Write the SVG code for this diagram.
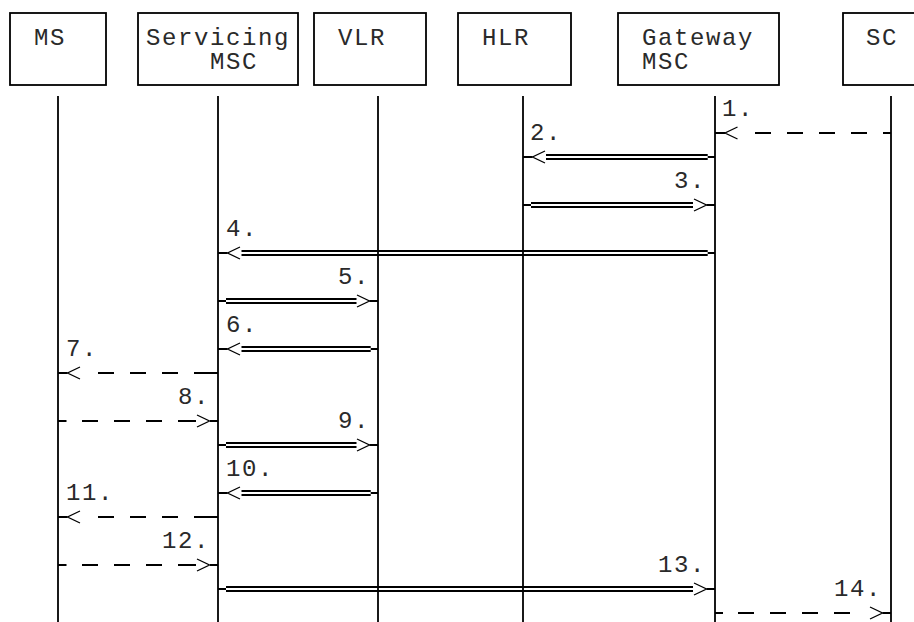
<svg xmlns="http://www.w3.org/2000/svg" width="914" height="622" viewBox="0 0 914 622">
<style>
.bg{fill:#fff}
.box{fill:none;stroke:#000;stroke-width:1.8}
.life{stroke:#000;stroke-width:1.8;fill:none}
.t{font-family:"Liberation Mono","Courier New",monospace;font-size:24px;letter-spacing:1.6px;fill:#2a2a2a}
.ln{stroke:#000;stroke-width:1.8;fill:none}
.dbl{stroke:#000;stroke-width:2;fill:none}
.hd{stroke:#000;stroke-width:1.3;fill:none}
</style>
<rect class="bg" x="0" y="0" width="914" height="622"/>
<g id="node-ms">
<rect class="box" x="10" y="13" width="96" height="72"/>
<text class="t" x="34" y="45">MS</text>
<line class="life" x1="58" y1="96" x2="58" y2="622"/>
</g>
<g id="node-servicing-msc">
<rect class="box" x="138" y="13" width="160" height="72"/>
<text class="t" x="146" y="45">Servicing</text>
<text class="t" x="210" y="68.5">MSC</text>
<line class="life" x1="218" y1="96" x2="218" y2="622"/>
</g>
<g id="node-vlr">
<rect class="box" x="314" y="13" width="112" height="72"/>
<text class="t" x="338" y="45">VLR</text>
<line class="life" x1="378" y1="96" x2="378" y2="622"/>
</g>
<g id="node-hlr">
<rect class="box" x="458" y="13" width="113" height="72"/>
<text class="t" x="482" y="45">HLR</text>
<line class="life" x1="523" y1="96" x2="523" y2="622"/>
</g>
<g id="node-gateway-msc">
<rect class="box" x="618" y="13" width="161" height="72"/>
<text class="t" x="642" y="45">Gateway</text>
<text class="t" x="642" y="68.5">MSC</text>
<line class="life" x1="715" y1="96" x2="715" y2="622"/>
</g>
<g id="node-sc">
<rect class="box" x="843" y="13" width="100" height="72"/>
<text class="t" x="866" y="45">SC</text>
<line class="life" x1="891" y1="96" x2="891" y2="622"/>
</g>
<g id="connectors">
<g id="msg1">
<text class="t" x="722" y="116">1.</text>
<path class="ln" d="M715 133H725M755 133H771M787 133H803M819 133H835M851 133H867M883 133H891"/>
<path class="hd" d="M737.5 127L725 133L737.5 139"/>
</g>
<g id="msg2">
<text class="t" x="530" y="140">2.</text>
<path class="ln" d="M523 157H532.5M707.7 157H715"/>
<path class="dbl" d="M546 155H707.7M546 159H707.7"/>
<path class="hd" d="M545 151L532.5 157L545 163"/>
</g>
<g id="msg3">
<text class="t" x="674" y="188">3.</text>
<path class="ln" d="M523 205H531M706.5 205H715"/>
<path class="dbl" d="M531 203H693M531 207H693"/>
<path class="hd" d="M694 199L706.5 205L694 211"/>
</g>
<g id="msg4">
<text class="t" x="226" y="236">4.</text>
<path class="ln" d="M218 253H227.5M707.7 253H715"/>
<path class="dbl" d="M241.5 251H707.7M241.5 255H707.7"/>
<path class="hd" d="M240 247L227.5 253L240 259"/>
</g>
<g id="msg5">
<text class="t" x="338" y="284">5.</text>
<path class="ln" d="M218 301H226M369.5 301H378"/>
<path class="dbl" d="M226 299H356.5M226 303H356.5"/>
<path class="hd" d="M357 295L369.5 301L357 307"/>
</g>
<g id="msg6">
<text class="t" x="226" y="332">6.</text>
<path class="ln" d="M218 349H227.5M370.7 349H378"/>
<path class="dbl" d="M241.5 347H370.7M241.5 351H370.7"/>
<path class="hd" d="M240 343L227.5 349L240 355"/>
</g>
<g id="msg7">
<text class="t" x="66" y="356">7.</text>
<path class="ln" d="M58 373H67.5M98 373H114M130 373H146M162 373H178M194 373H218"/>
<path class="hd" d="M80 367L67.5 373L80 379"/>
</g>
<g id="msg8">
<text class="t" x="178" y="404">8.</text>
<path class="ln" d="M58 421H66.5M82 421H98M114 421H130M146 421H162M178 421H196M210 421H218"/>
<path class="hd" d="M197 415L209.5 421L197 427"/>
</g>
<g id="msg9">
<text class="t" x="338" y="428">9.</text>
<path class="ln" d="M218 445H226M369.5 445H378"/>
<path class="dbl" d="M226 443H356.5M226 447H356.5"/>
<path class="hd" d="M357 439L369.5 445L357 451"/>
</g>
<g id="msg10">
<text class="t" x="226" y="476">10.</text>
<path class="ln" d="M218 493H227.5M370.7 493H378"/>
<path class="dbl" d="M241.5 491H370.7M241.5 495H370.7"/>
<path class="hd" d="M240 487L227.5 493L240 499"/>
</g>
<g id="msg11">
<text class="t" x="66" y="500">11.</text>
<path class="ln" d="M58 517H67.5M98 517H114M130 517H146M162 517H178M194 517H218"/>
<path class="hd" d="M80 511L67.5 517L80 523"/>
</g>
<g id="msg12">
<text class="t" x="162" y="548">12.</text>
<path class="ln" d="M58 565H66.5M82 565H98M114 565H130M146 565H162M178 565H196M210 565H218"/>
<path class="hd" d="M197 559L209.5 565L197 571"/>
</g>
<g id="msg13">
<text class="t" x="658" y="572">13.</text>
<path class="ln" d="M218 589H226M706.5 589H715"/>
<path class="dbl" d="M226 587H693M226 591H693"/>
<path class="hd" d="M694 583L706.5 589L694 595"/>
</g>
<g id="msg14">
<text class="t" x="834" y="596">14.</text>
<path class="ln" d="M715 613H723M738 613H754M770 613H786M802 613H818M834 613H850M882.5 613H891"/>
<path class="hd" d="M870 607L882.5 613L870 619"/>
</g>
</g>
</svg>
